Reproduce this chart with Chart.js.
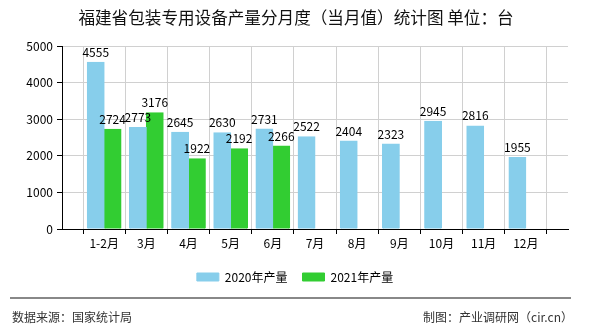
<!DOCTYPE html>
<html>
<head>
<meta charset="utf-8">
<script src="https://cdn.jsdelivr.net/npm/chart.js@4/dist/chart.umd.min.js"></script>
<style>
    html, body { margin: 0; padding: 0; background: #fff; }
    #wrap { position: relative; width: 590px; height: 330px; overflow: hidden; }
    #cv { position: absolute; left: 0; top: 0; }
    .title { position: absolute; left: 0; top: 7px; width: 592px; text-align: center; font: 16.6px 'Noto Sans CJK SC', sans-serif; color: #111; line-height: 20px; white-space: nowrap; }
    .ft-line { position: absolute; left: 10px; top: 297px; width: 561px; height: 0; border-top: 2px solid #888; }
    .ft-text { position: absolute; top: 309px; font: 12px 'Noto Sans CJK SC', sans-serif; color: #333; line-height: 16px; white-space: nowrap; }
</style>
</head>
<body>
<div id="wrap">
    <canvas id="cv" width="590" height="330"></canvas>
    <div class="title">福建省包装专用设备产量分月度（当月值）统计图 单位：台</div>
    <div class="ft-line"></div>
    <div class="ft-text" style="left:12px;">数据来源：国家统计局</div>
    <div class="ft-text" style="right:17px;">制图：产业调研网（cir.cn）</div>
</div>
<script>
'use strict';

// empty slot at each end, like the original axis
var months = ['', '1-2月', '3月', '4月', '5月', '6月', '7月', '8月', '9月', '10月', '11月', '12月', ''];
var output2020 = [null, 4555, 2773, 2645, 2630, 2731, 2522, 2404, 2323, 2945, 2816, 1955, null];
var output2021 = [null, 2724, 3176, 1922, 2192, 2266, null, null, null, null, null, null, null];
var seriesNames = ['2020年产量', '2021年产量'];
var seriesColors = ['#87CEEB', '#32CD32'];
var yTicks = [0, 1000, 2000, 3000, 4000, 5000];

var cnFont = "'Noto Sans CJK SC', sans-serif";

var barValueLabels = {
    id: 'barValueLabels',
    afterDatasetsDraw: function (chart) {
        var ctx = chart.ctx;
        chart.data.datasets.forEach(function (ds, i) {
            var meta = chart.getDatasetMeta(i);
            meta.data.forEach(function (bar, j) {
                var v = ds.data[j];
                if (v == null) return;
                ctx.save();
                ctx.fillStyle = '#000';
                ctx.font = '12px ' + cnFont;
                ctx.textAlign = 'center';
                ctx.textBaseline = 'bottom';
                ctx.fillText(String(v), bar.x, bar.y - 4);
                ctx.restore();
            });
        });
    }
};

function barSet(idx, values) {
    // same-colour border + inflate so neighbouring bars meet without a seam
    return {
        label: seriesNames[idx],
        data: values,
        backgroundColor: seriesColors[idx],
        borderColor: seriesColors[idx],
        borderWidth: 1,
        inflateAmount: 0.5,
        categoryPercentage: 0.8,
        barPercentage: 1.0
    };
}

new Chart(document.getElementById('cv'), {
    type: 'bar',
    data: {
        labels: months,
        datasets: [barSet(0, output2020), barSet(1, output2021)]
    },
    options: {
        responsive: false,
        devicePixelRatio: 1,
        animation: false,
        layout: { padding: { left: 0, right: 0, top: 46, bottom: 37 } },
        plugins: {
            title: { display: false },
            legend: {
                position: 'bottom',
                labels: {
                    color: '#000',
                    font: { family: cnFont, size: 12 },
                    boxWidth: 22,
                    boxHeight: 8,
                    padding: 15
                }
            },
            tooltip: { enabled: false }
        },
        scales: {
            x: {
                offset: false,
                grid: { color: '#d0d0d0', tickColor: '#000', tickLength: 5 },
                border: { color: '#000', width: 1 },
                ticks: { color: '#000', font: { family: cnFont, size: 12 }, padding: 2, maxRotation: 0, autoSkip: false },
                afterFit: function (s) { s.height = 27; }
            },
            y: {
                min: 0,
                max: 5000,
                afterBuildTicks: function (s) { s.ticks = yTicks.map(function (v) { return { value: v }; }); },
                grid: { color: '#d0d0d0', tickColor: '#000', tickLength: 5 },
                border: { color: '#000', width: 1 },
                ticks: { color: '#000', font: { family: cnFont, size: 12 }, padding: 4, callback: function (v) { return String(v); } },
                afterFit: function (s) { s.width = 62; }
            },
            // blank strip on the right so the legend centres on the whole canvas
            yRight: {
                position: 'right',
                grid: { display: false },
                border: { display: false },
                ticks: { display: false },
                afterFit: function (s) { s.width = 22; }
            }
        }
    },
    plugins: [barValueLabels]
});
</script>
</body>
</html>
